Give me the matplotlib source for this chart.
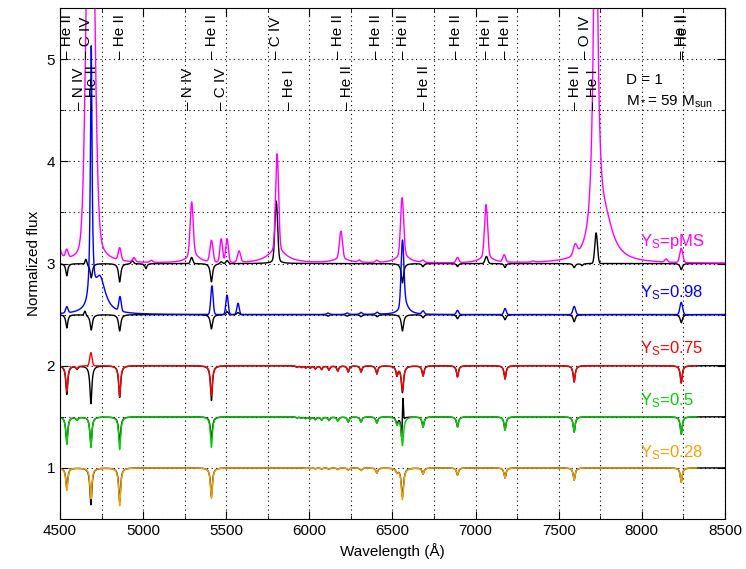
import numpy as np
import matplotlib.pyplot as plt

plt.rcParams['font.family'] = ['Liberation Sans', 'DejaVu Sans']
plt.rcParams['mathtext.fontset'] = 'custom'
plt.rcParams['mathtext.rm'] = 'Liberation Sans'
plt.rcParams['mathtext.default'] = 'regular'

# line tables: (centre [A], amplitude, width [A], shape)
# shape 'l' = lorentzian (width = hwhm), 'g' = gaussian (width = sigma)
pickering = [5925, 5952, 5978, 6005, 6036, 6074, 6118, 6171, 6234, 6311, 6406, 6527]

pms_lines = [(4480, 0.5, 12, 'l'), (4541, 0.08, 8, 'g'), (4683, 4.4, 22, 'g'),
             (4690, 0.5, 45, 'l'), (4859, 0.12, 8, 'g'), (4945, 0.04, 8, 'g'),
             (5050, 0.02, 8, 'g'), (5292, 0.5, 9, 'g'), (5300, 0.1, 40, 'l'),
             (5411, 0.21, 9, 'g'), (5470, 0.23, 8, 'g'), (5505, 0.23, 8, 'g'),
             (5577, 0.11, 9, 'g'), (5806, 0.92, 9, 'g'), (5806, 0.15, 60, 'l'),
             (6190, 0.26, 9, 'g'), (6190, 0.05, 50, 'l'), (6300, 0.02, 8, 'g'),
             (6406, 0.02, 8, 'g'), (6558, 0.54, 9, 'g'), (6560, 0.1, 40, 'l'),
             (6683, 0.02, 8, 'g'), (6891, 0.05, 8, 'g'), (7063, 0.49, 9, 'g'),
             (7063, 0.08, 40, 'l'), (7172, 0.07, 8, 'g'), (7346, 0.01, 8, 'g'),
             (7599, 0.1, 11, 'g'), (7722, 4.0, 15, 'l'), (7780, 0.35, 60, 'l'),
             (8146, 0.03, 8, 'g'), (8237, 0.14, 9, 'g')]
pms_ref = [(4541, -0.12, 7, 'l'), (4656, 0.05, 5, 'g'), (4688, -0.14, 8, 'l'),
           (4859, -0.18, 8, 'l'), (4935, 0.03, 7, 'g'), (5017, -0.05, 7, 'l'),
           (5292, 0.06, 7, 'g'), (5411, -0.18, 8, 'l'), (5470, 0.02, 7, 'g'),
           (5505, 0.03, 7, 'g'), (5801, 0.55, 8, 'g'), (5801, 0.06, 20, 'l'),
           (6560, -0.19, 8, 'l'), (6683, -0.03, 7, 'l'), (6891, -0.03, 7, 'l'),
           (7065, 0.07, 8, 'g'), (7177, -0.04, 7, 'l'), (7593, -0.04, 8, 'l'),
           (7640, -0.02, 7, 'l'), (7725, 0.3, 8, 'g'), (8237, -0.06, 8, 'l')]

y98_lines = [(4541, 0.06, 7, 'g'), (4688, 2.5, 6, 'l'), (4740, 0.35, 40, 'l'),
             (4861, 0.14, 7, 'g'), (5414, 0.28, 7, 'g'), (5505, 0.19, 7, 'g'),
             (5571, 0.11, 7, 'g'), (6112, 0.015, 8, 'l'), (6227, 0.015, 8, 'l'),
             (6311, 0.02, 8, 'l'), (6408, 0.02, 8, 'l'), (6560, 0.6, 8, 'g'),
             (6570, 0.15, 25, 'l'), (6684, 0.03, 7, 'g'), (6891, 0.04, 7, 'g'),
             (7177, 0.06, 7, 'g'), (7593, 0.08, 8, 'g'), (8237, 0.12, 8, 'g')]
y98_ref = [(4541, -0.13, 7, 'l'), (4650, 0.04, 5, 'g'), (4688, -0.15, 8, 'l'),
           (4859, -0.16, 8, 'l'), (5411, -0.14, 8, 'l'), (5505, 0.03, 7, 'g'),
           (5571, 0.02, 7, 'g'), (6112, -0.015, 8, 'l'), (6227, -0.015, 8, 'l'),
           (6311, -0.02, 8, 'l'), (6408, -0.02, 8, 'l'), (6560, -0.16, 8, 'l'),
           (6684, -0.03, 7, 'l'), (6891, -0.04, 8, 'l'), (7177, -0.05, 8, 'l'),
           (7593, -0.07, 8, 'l'), (8237, -0.08, 8, 'l')]

pick_red = [-0.015, -0.015, -0.02, -0.02, -0.03, -0.035, -0.04, -0.05, -0.06, -0.06, -0.08, -0.09]
pick_green = [-0.01, -0.012, -0.015, -0.02, -0.025, -0.03, -0.035, -0.04, -0.05, -0.05, -0.06, -0.07]
pick_orange = [0.0, 0.0, -0.005, -0.005, -0.008, -0.01, -0.012, -0.015, -0.02, -0.025, -0.05, -0.04]

y75_lines = [(4541, -0.25, 7, 'l'), (4602, -0.03, 7, 'l'), (4686, 0.13, 7, 'g'),
             (4859, -0.3, 7, 'l'), (5411, -0.29, 7, 'l'), (6560, -0.24, 8, 'l'),
             (6684, -0.1, 7, 'l'), (6891, -0.11, 7, 'l'), (7177, -0.13, 7, 'l'),
             (7593, -0.16, 7, 'l'), (8237, -0.17, 7, 'l')]
y75_ref = [(4541, -0.28, 7, 'l'), (4602, -0.03, 7, 'l'), (4686, -0.37, 7, 'l'),
           (4859, -0.31, 7, 'l'), (5411, -0.34, 7, 'l'), (6560, -0.26, 8, 'l'),
           (6684, -0.1, 7, 'l'), (6891, -0.11, 7, 'l'), (7177, -0.13, 7, 'l'),
           (7593, -0.16, 7, 'l'), (8237, -0.17, 7, 'l')]

y50_lines = [(4541, -0.27, 7, 'l'), (4602, -0.03, 7, 'l'), (4686, -0.3, 7, 'l'),
             (4859, -0.32, 7, 'l'), (5411, -0.3, 7, 'l'), (6560, -0.28, 8, 'l'),
             (6684, -0.1, 7, 'l'), (6891, -0.1, 7, 'l'), (7177, -0.13, 7, 'l'),
             (7593, -0.15, 7, 'l'), (8237, -0.17, 7, 'l')]
y50_ref = [(4541, -0.25, 7, 'l'), (4602, -0.03, 7, 'l'), (4686, -0.28, 7, 'l'),
           (4859, -0.26, 7, 'l'), (5411, -0.22, 7, 'l'), (6555, -0.2, 5, 'l'),
           (6563, 0.24, 3, 'g'), (6684, -0.1, 7, 'l'), (6891, -0.1, 7, 'l'),
           (7177, -0.13, 7, 'l'), (7593, -0.15, 7, 'l'), (8237, -0.17, 7, 'l')]

y28_lines = [(4541, -0.22, 7, 'l'), (4686, -0.3, 7, 'l'), (4859, -0.37, 7, 'l'),
             (5411, -0.3, 7, 'l'), (6560, -0.31, 8, 'l'), (6684, -0.06, 7, 'l'),
             (6891, -0.07, 7, 'l'), (7177, -0.1, 7, 'l'), (7593, -0.12, 7, 'l'),
             (8237, -0.14, 7, 'l')]
y28_ref = [(4541, -0.2, 7, 'l'), (4686, -0.36, 7, 'l'), (4859, -0.33, 7, 'l'),
           (5411, -0.28, 7, 'l'), (6560, -0.28, 8, 'l'), (6684, -0.06, 7, 'l'),
           (6891, -0.07, 7, 'l'), (7177, -0.1, 7, 'l'), (7593, -0.12, 7, 'l'),
           (8237, -0.14, 7, 'l')]

# line identifications at the top
top_ids = [(4541, 'He II'), (4658, 'C IV'), (4859, 'He II'), (5412, 'He II'),
           (5801, 'C IV'), (6170, 'He II'), (6403, 'He II'), (6562, 'He II'),
           (6880, 'He II'), (7060, 'He I'), (7178, 'He II'), (7660, 'O IV'),
           (8237, 'He II'), (8246, 'He II')]
low_ids = [(4612, 'N IV'), (4690, 'He II'), (5272, 'N IV'), (5469, 'C IV'),
           (5878, 'He I'), (6228, 'He II'), (6692, 'He II'), (7597, 'He II'),
           (7705, 'He I')]


def spectrum(wl, lines, base, extra=None):
    f = np.full_like(wl, base)
    for c, a, w, kind in lines:
        if kind == 'g':
            f += a * np.exp(-0.5 * ((wl - c) / w) ** 2)
        else:
            f += a * w ** 2 / (w ** 2 + (wl - c) ** 2)
    if extra is not None:
        for c, a in zip(pickering, extra):
            f += a * 49 / (49 + (wl - c) ** 2)
    return f


wl = np.arange(4500, 8501, 1.0)
wl_short = wl[wl <= 8330]

fig = plt.figure(figsize=(7.46, 5.69), dpi=100)
ax = fig.add_axes([0.0804, 0.0879, 0.8914, 0.898])

series = [
    (pms_lines, pms_ref, 3.0, None, None, '#ff00ff', 'pMS', 3.22, wl),
    (y98_lines, y98_ref, 2.5, None, None, '#0000ff', '0.98', 2.71, wl),
    (y75_lines, y75_ref, 2.0, pick_red, pick_red, '#ff0000', '0.75', 2.17, wl_short),
    (y50_lines, y50_ref, 1.5, pick_green, pick_green, '#00d000', '0.5', 1.66, wl_short),
    (y28_lines, y28_ref, 1.0, pick_orange, pick_orange, '#f5a000', '0.28', 1.15, wl_short),
]
for lines, ref, base, pk, pk_ref, col, lab, ylab, wgrid in series:
    ax.plot(wl, spectrum(wl, ref, base, pk_ref), color='black', lw=1.0)
    ax.plot(wgrid, spectrum(wgrid, lines, base, pk), color=col, lw=1.0)
    ax.text(7990, ylab, 'Y$_S$=' + lab, color=col, fontsize=12, va='center')

for w, name in top_ids:
    ax.text(w, 5.0, '– ' + name, rotation=90, ha='center', va='bottom', fontsize=11)
for w, name in low_ids:
    ax.text(w, 4.5, '– ' + name, rotation=90, ha='center', va='bottom', fontsize=11)

ax.text(7905, 4.8, 'D = 1', fontsize=11, va='center')
ax.text(7905, 4.58, 'M$_*$= 59 M$_{sun}$', fontsize=11, va='center')

ax.set_xlim(4500, 8500)
ax.set_ylim(0.5, 5.5)
ax.set_xticks(np.arange(4500, 8501, 500))
ax.set_xticks(np.arange(4750, 8500, 500), minor=True)
ax.set_yticks([1, 2, 3, 4, 5])
ax.set_yticks(np.arange(0.5, 5.6, 1.0), minor=True)
ax.grid(True, which='both', color='black', linestyle=(0, (1, 3)), lw=0.8)
ax.tick_params(which='both', direction='in', top=True, right=True, labelsize=11)
ax.tick_params(which='major', length=6)
ax.tick_params(which='minor', length=3)
ax.set_xlabel('Wavelength (Å)', fontsize=11)
ax.set_ylabel('Normalized flux', fontsize=11)

fig.savefig('out.png', dpi=100)
